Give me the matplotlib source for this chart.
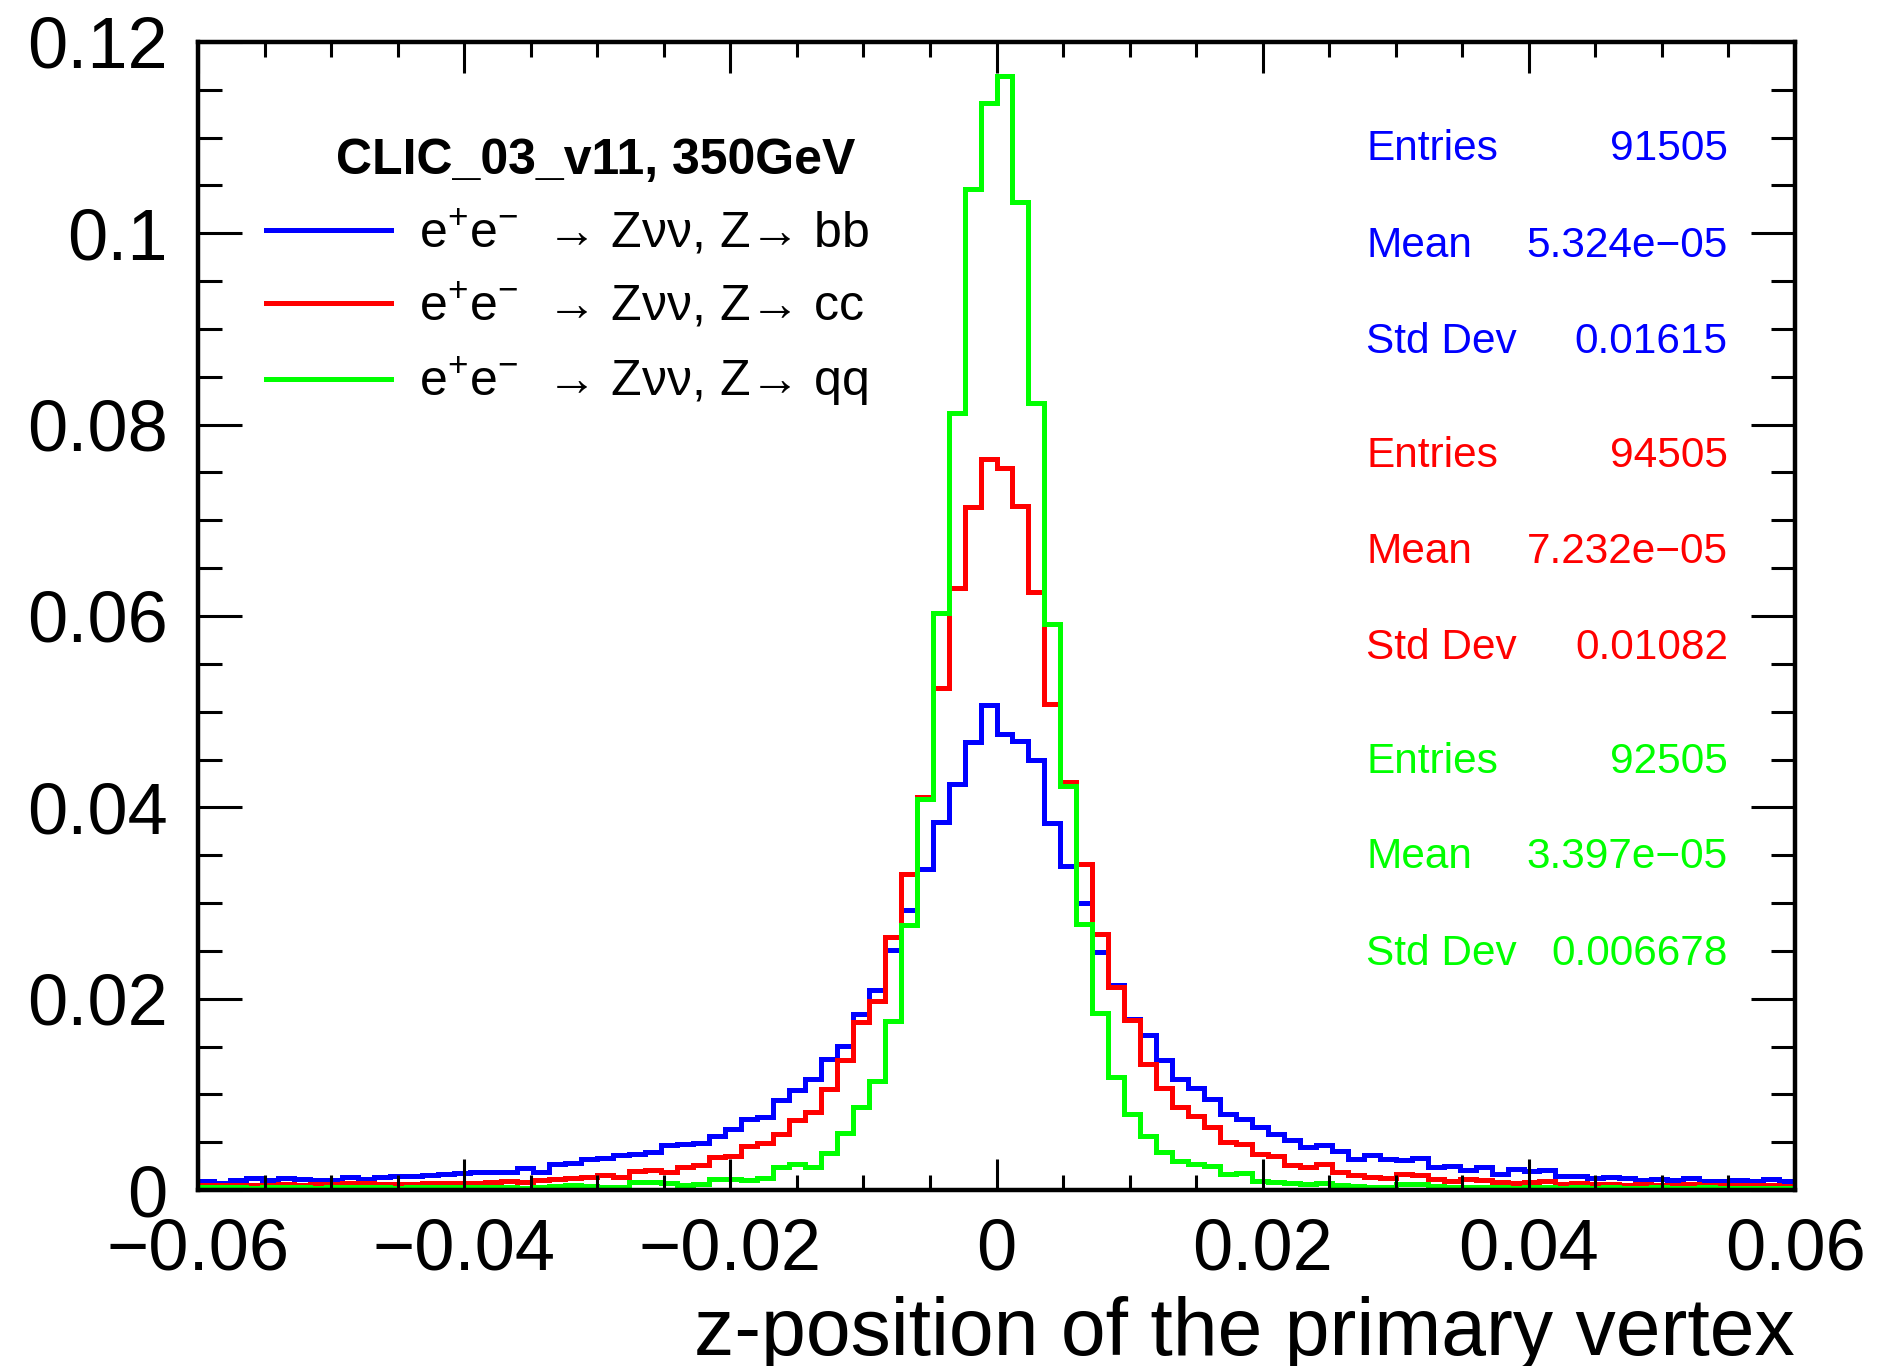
import numpy as np
import matplotlib.pyplot as plt
from matplotlib.lines import Line2D
from matplotlib.ticker import MultipleLocator, FuncFormatter

plt.rcParams['font.family'] = ['Liberation Sans', 'DejaVu Sans']
plt.rcParams['mathtext.fontset'] = 'custom'
plt.rcParams['mathtext.rm'] = 'Liberation Sans'
plt.rcParams['mathtext.it'] = 'Liberation Sans:italic'
plt.rcParams['mathtext.bf'] = 'Liberation Sans:bold'

# 100 bins from -0.06 to 0.06
edges = np.linspace(-0.06, 0.06, 101)

# Z -> bb (blue)
h_bb = [0.0009, 0.0007, 0.0010, 0.0013, 0.0011, 0.0013, 0.0012, 0.0011, 0.0010, 0.0014,
        0.0012, 0.0014, 0.0015, 0.0015, 0.0016, 0.0017, 0.0018, 0.0019, 0.0019, 0.0019,
        0.0023, 0.0019, 0.0027, 0.0028, 0.0032, 0.0033, 0.0037, 0.0038, 0.0040, 0.0047,
        0.0048, 0.0049, 0.0056, 0.0064, 0.0074, 0.0076, 0.0094, 0.0105, 0.0116, 0.0137,
        0.0151, 0.0184, 0.0209, 0.0251, 0.0293, 0.0336, 0.0385, 0.0424, 0.0468, 0.0507,
        0.0477, 0.0469, 0.0449, 0.0384, 0.0339, 0.0300, 0.0249, 0.0214, 0.0179, 0.0162,
        0.0136, 0.0116, 0.0107, 0.0095, 0.0080, 0.0074, 0.0066, 0.0059, 0.0052, 0.0045,
        0.0047, 0.0041, 0.0032, 0.0037, 0.0032, 0.0031, 0.0034, 0.0024, 0.0025, 0.0021,
        0.0024, 0.0017, 0.0022, 0.0020, 0.0021, 0.0015, 0.0015, 0.0013, 0.0014, 0.0013,
        0.0011, 0.0012, 0.0011, 0.0013, 0.0009, 0.0009, 0.0011, 0.0009, 0.0012, 0.0009]

# Z -> cc (red)
h_cc = [0.0005, 0.0005, 0.0005, 0.0005, 0.0005, 0.0006, 0.0005, 0.0006, 0.0006, 0.0007,
        0.0007, 0.0006, 0.0006, 0.0006, 0.0007, 0.0007, 0.0007, 0.0007, 0.0008, 0.0009,
        0.0008, 0.0010, 0.0012, 0.0013, 0.0014, 0.0016, 0.0014, 0.0020, 0.0021, 0.0019,
        0.0024, 0.0026, 0.0035, 0.0036, 0.0046, 0.0049, 0.0059, 0.0073, 0.0082, 0.0106,
        0.0136, 0.0176, 0.0198, 0.0265, 0.0330, 0.0411, 0.0525, 0.0629, 0.0714, 0.0764,
        0.0755, 0.0715, 0.0625, 0.0508, 0.0426, 0.0341, 0.0268, 0.0212, 0.0178, 0.0132,
        0.0107, 0.0087, 0.0077, 0.0066, 0.0050, 0.0048, 0.0038, 0.0036, 0.0026, 0.0024,
        0.0027, 0.0019, 0.0016, 0.0014, 0.0013, 0.0017, 0.0016, 0.0012, 0.0009, 0.0012,
        0.0010, 0.0008, 0.0007, 0.0008, 0.0009, 0.0006, 0.0007, 0.0006, 0.0006, 0.0005,
        0.0006, 0.0005, 0.0005, 0.0006, 0.0005, 0.0005, 0.0005, 0.0005, 0.0005, 0.0004]

# Z -> qq (green)
h_qq = [0.0003, 0.0003, 0.0003, 0.0002, 0.0003, 0.0003, 0.0003, 0.0002, 0.0003, 0.0003,
        0.0003, 0.0003, 0.0002, 0.0003, 0.0003, 0.0003, 0.0003, 0.0003, 0.0003, 0.0003,
        0.0002, 0.0003, 0.0004, 0.0005, 0.0004, 0.0003, 0.0003, 0.0008, 0.0008, 0.0007,
        0.0005, 0.0006, 0.0012, 0.0012, 0.0011, 0.0013, 0.0024, 0.0027, 0.0024, 0.0039,
        0.0060, 0.0087, 0.0114, 0.0177, 0.0277, 0.0409, 0.0603, 0.0812, 0.1046, 0.1136,
        0.1164, 0.1033, 0.0823, 0.0592, 0.0422, 0.0278, 0.0185, 0.0118, 0.0080, 0.0057,
        0.0040, 0.0030, 0.0027, 0.0025, 0.0017, 0.0018, 0.0009, 0.0008, 0.0007, 0.0006,
        0.0007, 0.0005, 0.0004, 0.0003, 0.0003, 0.0006, 0.0006, 0.0004, 0.0003, 0.0003,
        0.0003, 0.0003, 0.0002, 0.0003, 0.0003, 0.0002, 0.0003, 0.0002, 0.0003, 0.0002,
        0.0002, 0.0003, 0.0002, 0.0002, 0.0003, 0.0002, 0.0002, 0.0002, 0.0002, 0.0002]

hists = [h_bb, h_cc, h_qq]
colors = ['#0000ff', '#ff0000', '#00ff00']
decays = ['bb', 'cc', 'qq']
labels = ['e$^{+}$e$^{-}$  \u2192 Z\u03bd\u03bd, Z\u2192 ' + d for d in decays]
header = 'CLIC_03_v11, 350GeV'

# stat box values
entries = ['91505', '94505', '92505']
means = ['5.324e\u221205', '7.232e\u221205', '3.397e\u221205']
stds = ['0.01615', '0.01082', '0.006678']

fig = plt.figure(figsize=(18.79, 13.66), dpi=100)
ax = fig.add_axes([0.1054, 0.1288, 0.8499, 0.8405])

for vals, col in zip(hists, colors):
    ax.stairs(vals, edges, color=col, lw=3.6)

ax.set_xlim(-0.06, 0.06)
ax.set_ylim(0, 0.12)

ax.xaxis.set_major_locator(MultipleLocator(0.02))
ax.xaxis.set_minor_locator(MultipleLocator(0.005))
ax.yaxis.set_major_locator(MultipleLocator(0.02))
ax.yaxis.set_minor_locator(MultipleLocator(0.005))

fmt = FuncFormatter(lambda v, p: ('%g' % round(v, 4)).replace('-', '\u2212'))
ax.xaxis.set_major_formatter(fmt)
ax.yaxis.set_major_formatter(fmt)

ax.tick_params(which='both', direction='in', top=True, right=True, width=2.2,
               labelsize=52)
ax.tick_params(axis='y', which='major', length=32, pad=22)
ax.tick_params(axis='y', which='minor', length=17)
ax.tick_params(axis='x', which='major', length=22, pad=20)
ax.tick_params(axis='x', which='minor', length=11)
for s in ax.spines.values():
    s.set_linewidth(3.2)

ax.set_xlabel('z-position of the primary vertex', fontsize=58, loc='right')
ax.xaxis.set_label_coords(1.0, -0.092)
ax.xaxis.label.set_va('top')

# legend
handles = [Line2D([], [], color=c, lw=3.6) for c in colors]
ax.legend(handles, labels, loc='upper left', bbox_to_anchor=(0.0426, 0.855),
          frameon=False, fontsize=36, borderpad=0, borderaxespad=0,
          handlelength=2.5, handletextpad=0.55, labelspacing=0.48)
ax.text(0.0864, 0.896, header, transform=ax.transAxes, fontsize=36,
        fontweight='bold', ha='left', va='center')

# stat boxes
row_y = [[0.9064, 0.8219, 0.7383], [0.6390, 0.5554, 0.4718], [0.3725, 0.2897, 0.2052]]
for i, col in enumerate(colors):
    names = ['Entries', 'Mean', 'Std Dev']
    vals = [entries[i], means[i], stds[i]]
    for name, val, y in zip(names, vals, row_y[i]):
        ax.text(0.7314, y, name, transform=ax.transAxes, color=col,
                fontsize=30.5, ha='left', va='center')
        ax.text(0.958, y, val, transform=ax.transAxes, color=col,
                fontsize=30.5, ha='right', va='center')

fig.savefig('out.png', dpi=100)
